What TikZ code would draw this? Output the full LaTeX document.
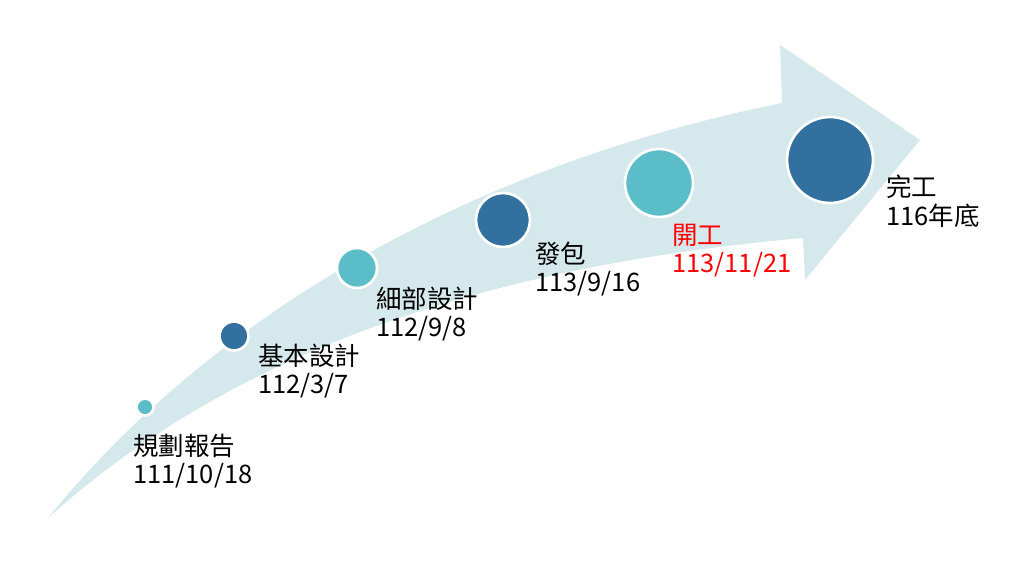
\documentclass[tikz,border=0pt]{standalone}
\usepackage{fontspec}
\setmainfont{Noto Sans CJK TC}
\definecolor{arrowc}{RGB}{213,232,236}
\definecolor{tealc}{RGB}{91,189,199}
\definecolor{navyc}{RGB}{49,112,159}
\begin{document}
\begin{tikzpicture}[x=0.02cm,y=-0.02cm,
  dot/.style={circle,draw=white,line width=1.5pt,inner sep=0pt},
  teal/.style={fill=tealc},
  navy/.style={fill=navyc},
  lbl/.style={anchor=north west,align=left,font=\fontsize{14.5pt}{16pt}\selectfont,inner sep=0pt}]
\useasboundingbox (0,0) rectangle (1024,572);
\fill[arrowc]
  (48,518) .. controls (200,330) and (450,170) .. (782,103)
  -- (780,45) -- (920,140) -- (805,280) -- (803,238)
  .. controls (500,265) and (240,345) .. (48,518) -- cycle;
\node[dot,teal,minimum size=0.34cm] (c1) at (145,407) {};
\node[dot,navy,minimum size=0.58cm] (c2) at (234,336) {};
\node[dot,teal,minimum size=0.8cm] (c3) at (357,268) {};
\node[dot,navy,minimum size=1.08cm] (c4) at (503,220) {};
\node[dot,teal,minimum size=1.36cm] (c5) at (659,183) {};
\node[dot,navy,minimum size=1.72cm] (c6) at (830,160) {};
\node[lbl] (t1) at (133,434) {規劃報告\\111/10/18};
\node[lbl] (t2) at (258,344) {基本設計\\112/3/7};
\node[lbl] (t3) at (376,287) {細部設計\\112/9/8};
\node[lbl] (t4) at (535,242) {發包\\113/9/16};
\node[lbl,text=red] (t5) at (672,224) {開工\\113/11/21};
\node[lbl] (t6) at (886,175) {完工\\116年底};
\end{tikzpicture}
\end{document}
